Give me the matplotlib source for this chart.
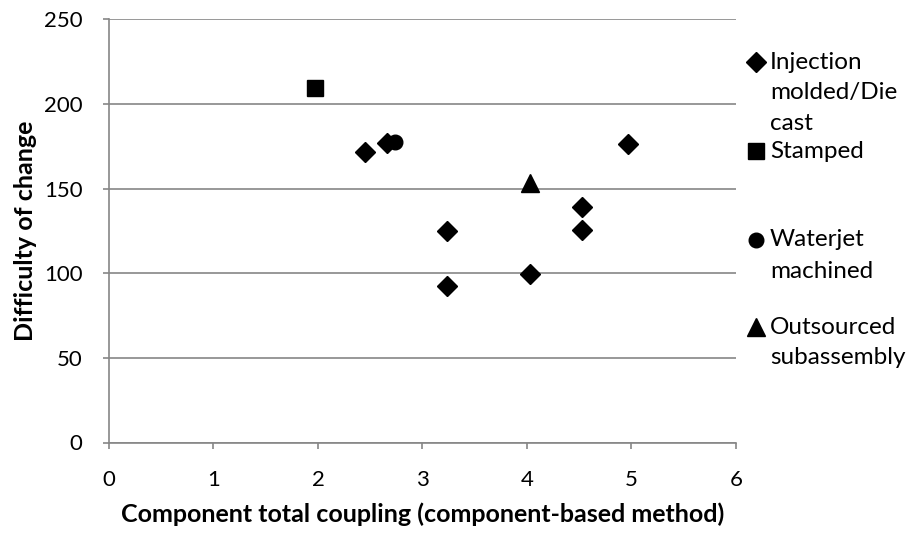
import matplotlib
matplotlib.use("Agg")
import matplotlib.pyplot as plt
from matplotlib.lines import Line2D

plt.rcParams['font.family'] = ['Lato', 'DejaVu Sans']

# data
injection_x = [2.45, 2.66, 3.23, 3.23, 4.03, 4.53, 4.53, 4.97]
injection_y = [171.7, 176.8, 125.0, 92.7, 99.4, 139.4, 125.6, 176.2]
stamped_x = [1.97]
stamped_y = [209.7]
waterjet_x = [2.74]
waterjet_y = [177.8]
outsourced_x = [4.03]
outsourced_y = [153.5]

series_labels = [["Injection", "molded/Die", "cast"],
                 ["Stamped"],
                 ["Waterjet", "machined"],
                 ["Outsourced", "subassembly"]]
x_ticks = [0, 1, 2, 3, 4, 5, 6]
y_ticks = [0, 50, 100, 150, 200, 250]

W, H = 912, 534
grey = '#868686'

fig = plt.figure(figsize=(W / 100, H / 100), dpi=100)
ax = fig.add_axes([109 / W, 1 - 442.5 / H, (736 - 109) / W, (442.5 - 19.3) / H])

styles = [dict(marker='D', ms=10), dict(marker='s', ms=11),
          dict(marker='o', ms=10.5), dict(marker='^', ms=12.5)]
xs = [injection_x, stamped_x, waterjet_x, outsourced_x]
ys = [injection_y, stamped_y, waterjet_y, outsourced_y]
for x, y, st in zip(xs, ys, styles):
    ax.plot(x, y, linestyle='none', color='black', mec='black', zorder=3, **st)

ax.set_xlim(0, 6)
ax.set_ylim(0, 250)
ax.set_xticks(x_ticks)
ax.set_yticks(y_ticks)
ax.yaxis.grid(True, color=grey, linewidth=1.2)
ax.set_axisbelow(True)
for s in ['top', 'right']:
    ax.spines[s].set_visible(False)
for s in ['left', 'bottom']:
    ax.spines[s].set_color(grey)
    ax.spines[s].set_linewidth(1.2)
ax.tick_params(axis='both', colors=grey, labelcolor='black', labelsize=16,
               length=4, width=1.2, direction='out')
ax.tick_params(axis='y', pad=15)
ax.tick_params(axis='x', pad=16)

ax.set_xlabel("Component total coupling (component-based method)",
              fontsize=18, fontweight='bold', labelpad=9)
ax.set_ylabel("Difficulty of change", fontsize=18, fontweight='bold', labelpad=5)

# legend drawn by hand (Excel-style wrapped entries)
entry_top = [62, 151, 240, 327]
line_gap = 31
for lines, st, y0 in zip(series_labels, styles, entry_top):
    fig.add_artist(Line2D([756 / W], [1 - y0 / H], transform=fig.transFigure,
                          linestyle='none', color='black', **st))
    for i, t in enumerate(lines):
        fig.text(770 / W, 1 - (y0 + i * line_gap) / H, t, fontsize=17.5,
                 ha='left', va='center')

fig.savefig("out.png", dpi=100)
